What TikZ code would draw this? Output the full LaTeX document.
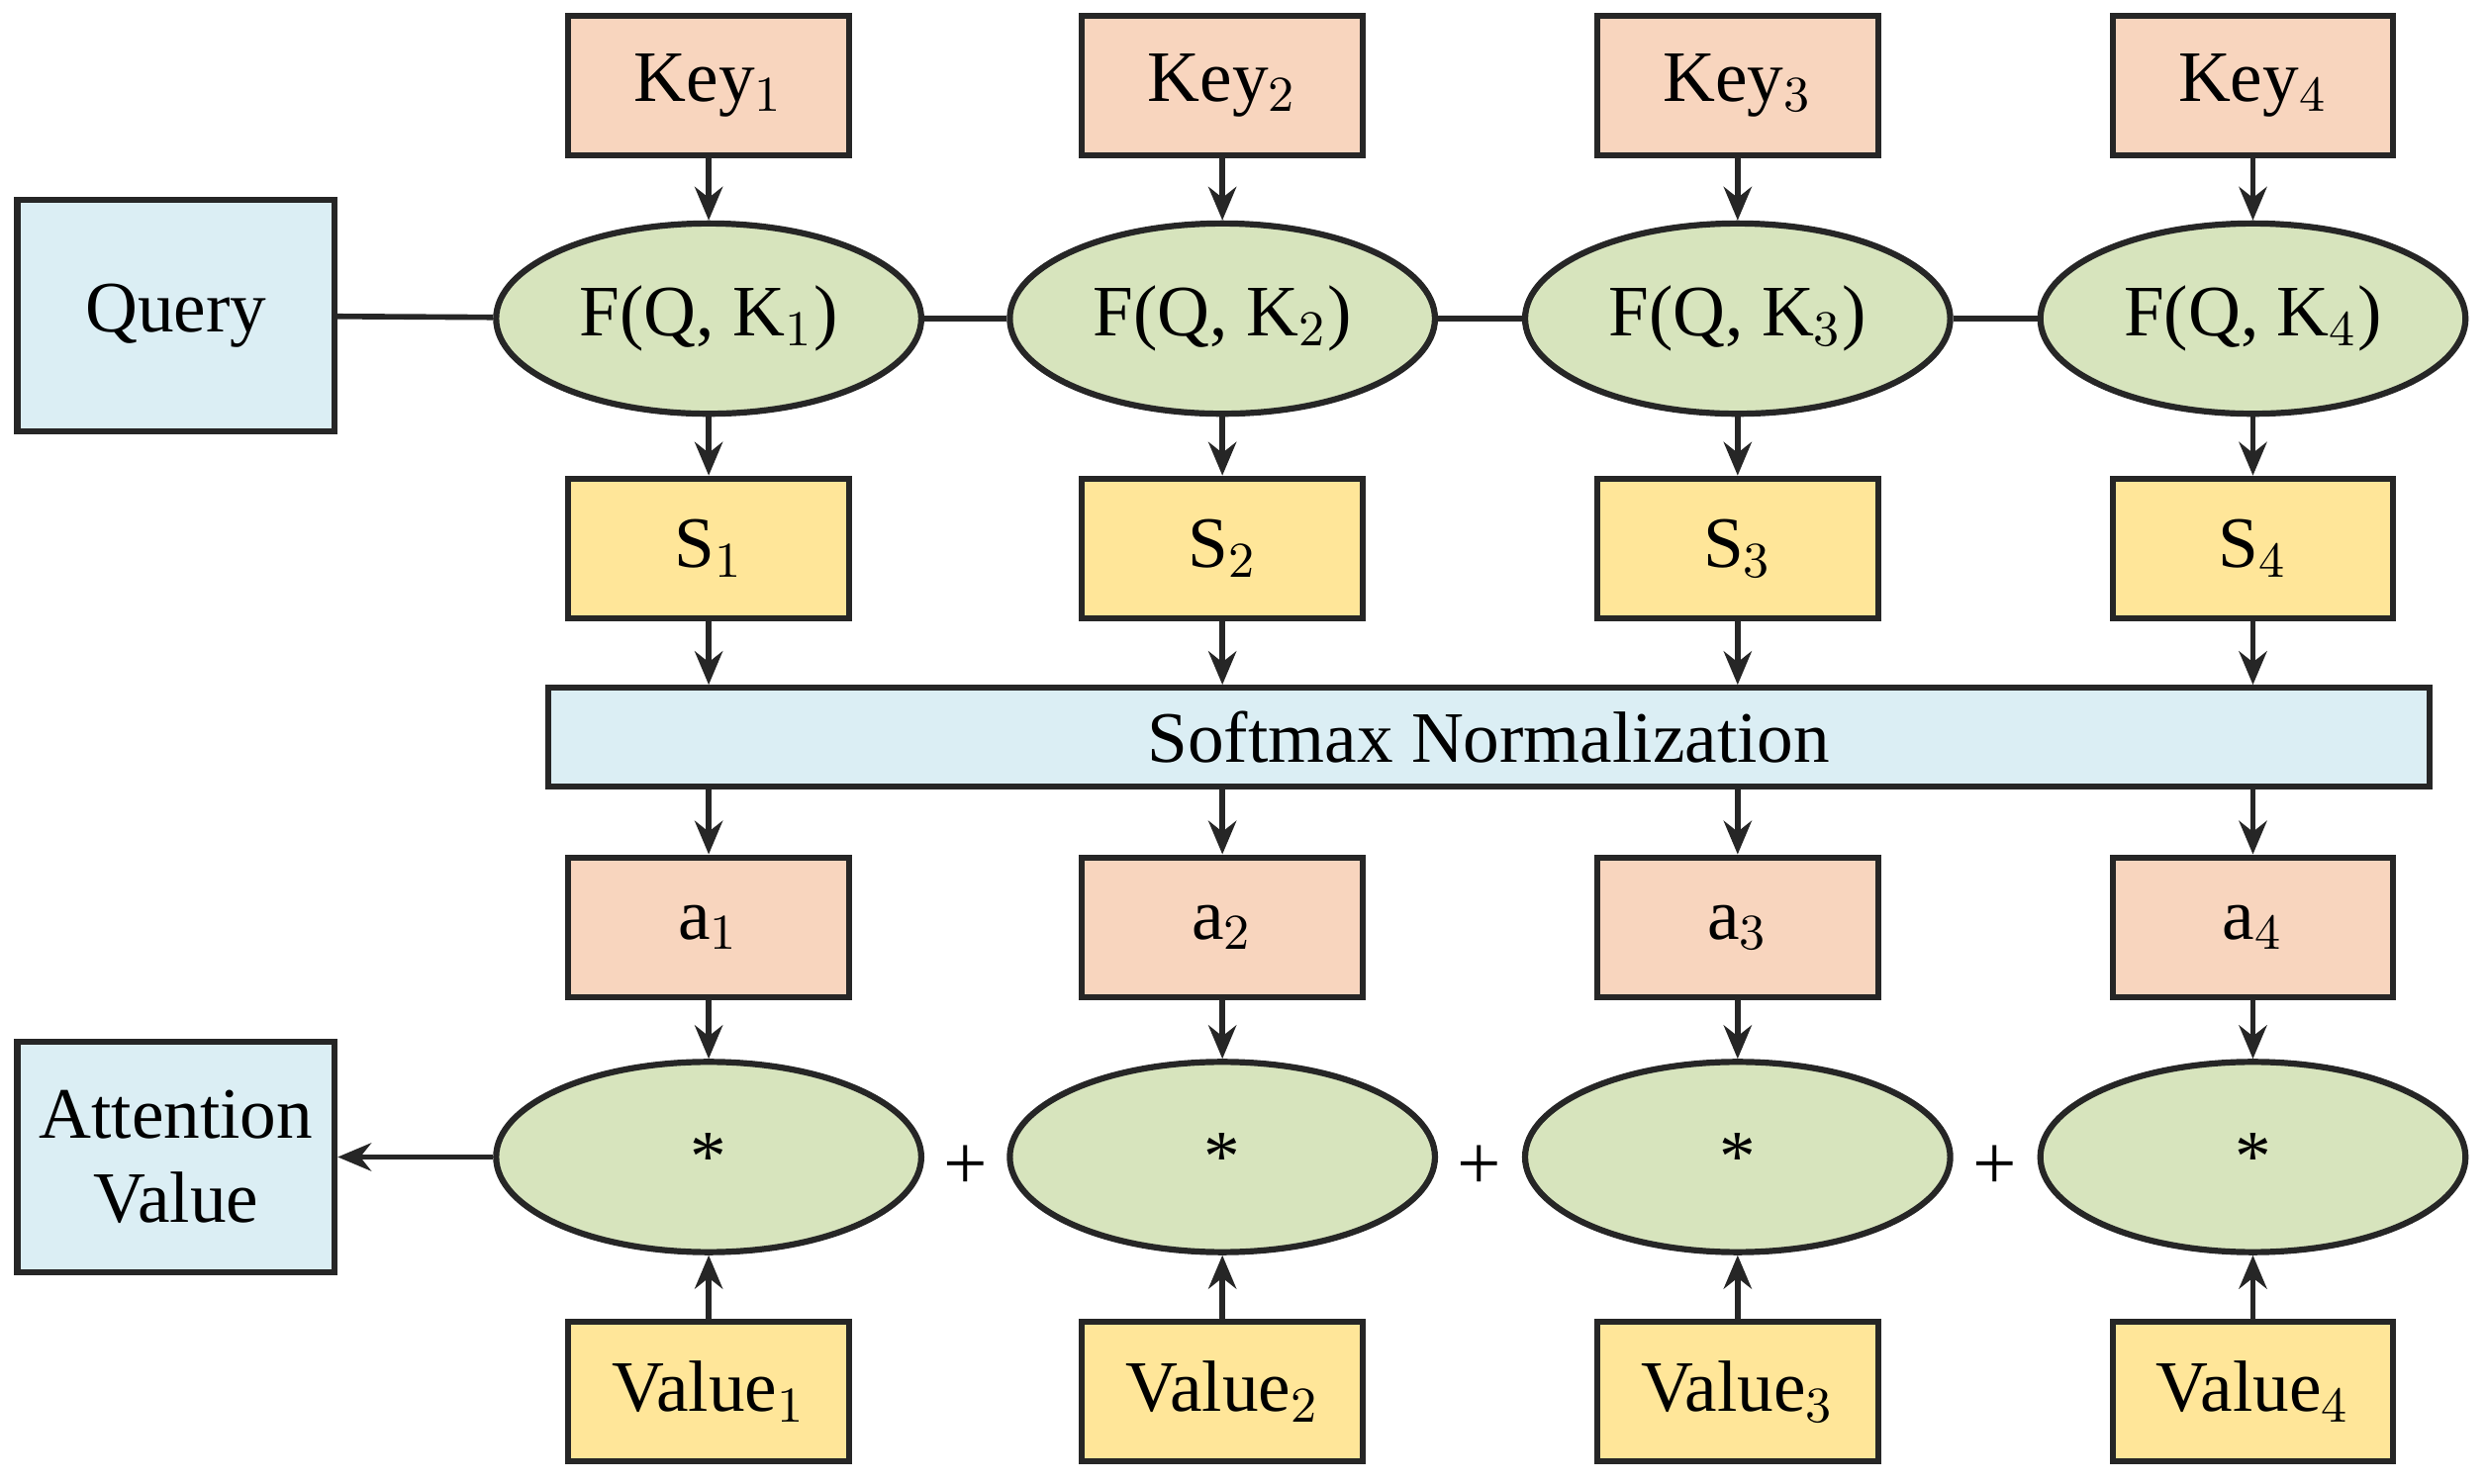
\documentclass[tikz,border=0pt]{standalone}
\usepackage{fontspec}
\setmainfont{Liberation Serif}
\usetikzlibrary{shapes.geometric,arrows.meta}
\definecolor{cor}{HTML}{F8D5BE}
\definecolor{cgr}{HTML}{D7E4BD}
\definecolor{cye}{HTML}{FFE699}
\definecolor{cbl}{HTML}{DBEEF4}
\definecolor{cln}{HTML}{262626}
\tikzset{
 bx/.style={draw=cln,line width=1.1pt,minimum width=1.77cm,minimum height=0.88cm,inner sep=0pt,font=\fontsize{13}{15}\selectfont},
 el/.style={draw=cln,line width=1.1pt,ellipse,fill=cgr,minimum width=2.68cm,minimum height=1.2cm,inner sep=0pt,font=\fontsize{13}{15}\selectfont},
 ar/.style={-{Stealth[length=6pt,width=5pt]},line width=1pt,cln},
 ln/.style={line width=1pt,cln}
}
\begin{document}
\begin{tikzpicture}[x=0.01cm,y=-0.01cm]
\useasboundingbox (0,0) rectangle (1568,936);
\node[bx,fill=cbl,minimum width=2cm,minimum height=1.46cm] (q) at (111,199) {Query};
\node[bx,fill=cbl,minimum width=2cm,minimum height=1.45cm,align=center] (att) at (111,730) {Attention\\Value};
\node[bx,fill=cbl,minimum width=11.86cm,minimum height=0.62cm] (sm) at (939,465) {Softmax Normalization};
\foreach \i/\x in {1/447,2/771,3/1096,4/1421}{
 \node[bx,fill=cor] (k\i) at (\x,54) {Key$_{\i}$};
 \node[el] (f\i) at (\x,201) {F(Q, K$_{\i}$)};
 \node[bx,fill=cye] (s\i) at (\x,346) {S$_{\i}$};
 \node[bx,fill=cor] (a\i) at (\x,585) {a$_{\i}$};
 \node[el] (m\i) at (\x,730) {*};
 \node[bx,fill=cye] (v\i) at (\x,878) {Value$_{\i}$};
 \draw[ar] (k\i) -- (f\i);
 \draw[ar] (f\i) -- (s\i);
 \draw[ar] (s\i) -- (s\i |- sm.north);
 \draw[ar] (a\i |- sm.south) -- (a\i);
 \draw[ar] (a\i) -- (m\i);
 \draw[ar] (v\i) -- (m\i);
}
\draw[ln] (q) -- (f1);
\draw[ln] (f1) -- (f2);
\draw[ln] (f2) -- (f3);
\draw[ln] (f3) -- (f4);
\draw[ar] (m1) -- (att);
\foreach \j/\x in {1/609,2/933,3/1258}{
 \node[font=\fontsize{14}{16}\selectfont] (p\j) at (\x,737) {+};
}
\end{tikzpicture}
\end{document}
